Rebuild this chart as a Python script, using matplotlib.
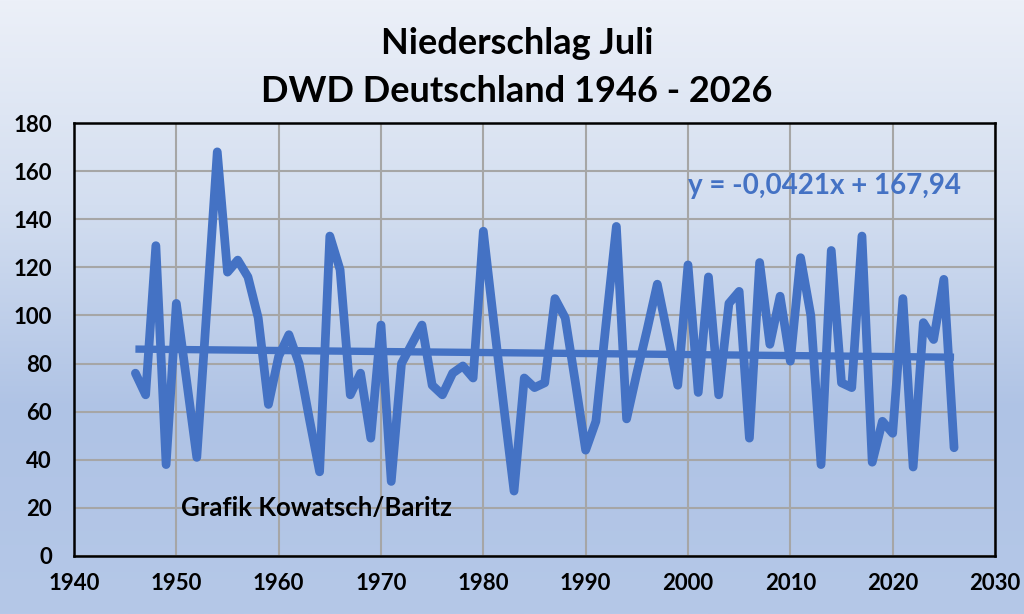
import numpy as np
import matplotlib
matplotlib.use("Agg")
import matplotlib.pyplot as plt
from matplotlib.colors import LinearSegmentedColormap

# ---- data ----
years = list(range(1946, 2027))
precip = [76, 67, 129, 38,
          105, 73, 41, 104, 168, 118, 123, 116, 99, 63,
          83, 92, 80, 57, 35, 133, 119, 67, 76, 49,
          96, 31, 80, 88, 96, 71, 67, 76, 79, 74,
          135, 98, 62, 27, 74, 70, 72, 107, 99, 72,
          44, 56, 97, 137, 57, 76, 94, 113, 92, 71,
          121, 68, 116, 67, 105, 110, 49, 122, 88, 108,
          81, 124, 100, 38, 127, 72, 70, 133, 39, 56,
          51, 107, 37, 97, 90, 115, 45]
trend_slope = -0.0421
trend_intercept = 167.94
x_ticks = list(range(1940, 2031, 10))
y_ticks = list(range(0, 181, 20))
title_lines = ["Niederschlag Juli", "DWD Deutschland 1946 - 2026"]
equation_text = "y = -0,0421x + 167,94"
credit_text = "Grafik Kowatsch/Baritz"

plt.rcParams['font.family'] = ['Lato', 'DejaVu Sans']

W, H, DPI = 1024, 614, 100
fig = plt.figure(figsize=(W / DPI, H / DPI), dpi=DPI)

# background gradient
bg = fig.add_axes([0, 0, 1, 1], zorder=-10)
cmap = LinearSegmentedColormap.from_list("bg", ["#ecf0f8", "#d3def0", "#afc3e5", "#b5c8e8"], N=256)
grad = np.linspace(0, 1, 256).reshape(-1, 1)
bg.imshow(grad, aspect='auto', cmap=cmap, extent=[0, 1, 0, 1], origin='upper')
bg.set_axis_off()

left, right = 74 / W, 995 / W
bottom, top = 1 - 556 / H, 1 - 123 / H
ax = fig.add_axes([left, bottom, right - left, top - bottom])
ax.set_facecolor('none')

ax.set_xlim(1940, 2030)
ax.set_ylim(0, 180)
ax.set_xticks(x_ticks)
ax.set_yticks(y_ticks)
ax.grid(True, color='#a6a6a6', linewidth=1.5)
ax.set_axisbelow(True)
for s in ax.spines.values():
    s.set_color('black')
    s.set_linewidth(1.8)
ax.tick_params(axis='x', length=0, labelsize=16, pad=12)
ax.tick_params(axis='y', length=0, labelsize=16, pad=16)
for lab in ax.get_xticklabels() + ax.get_yticklabels():
    lab.set_fontweight('bold')

line_color = '#4472c4'
ax.plot(years, precip, color=line_color, linewidth=6.3, solid_joinstyle='round',
        solid_capstyle='round', zorder=3)
tx = np.array([years[0], years[-1]])
ax.plot(tx, trend_slope * tx + trend_intercept, color=line_color, linewidth=5.3,
        solid_capstyle='butt', zorder=3)

ax.text(2013.3, 153.7, equation_text, color=line_color, fontsize=20,
        fontweight='bold', ha='center', va='center')
ax.text(1963.7, 19.8, credit_text, color='black', fontsize=18.5,
        fontweight='bold', ha='center', va='center')

fig.text(517 / W, 1 - 43 / H, title_lines[0], ha='center', va='center',
         fontsize=26, fontweight='bold')
fig.text(517 / W, 1 - 92 / H, title_lines[1], ha='center', va='center',
         fontsize=26, fontweight='bold')

fig.savefig("out.png", dpi=DPI)
